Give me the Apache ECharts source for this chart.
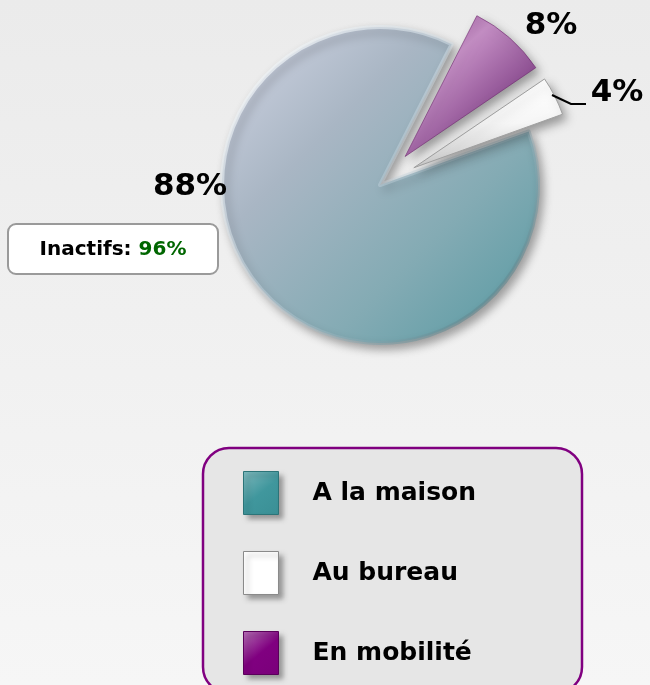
<!DOCTYPE html>
<html>
<head>
<meta charset="utf-8">
<script src="https://cdn.jsdelivr.net/npm/echarts@6/dist/echarts.min.js"></script>
<style>
  html, body { margin: 0; padding: 0; }
  #chart { width: 650px; height: 685px; }
</style>
</head>
<body>
<div id="chart"></div>
<script>
const categories = ['A la maison', 'Au bureau', 'En mobilité']
const shares = [88, 4, 8]
const exploded = [false, true, true]
const inactifs = 96

// where each percent label sits (px)
const labelAnchors = [[190, 187], [617, 93], [551, 26]]
const leaderLine = [[552, 95], [571, 104], [586, 104]]

const grad = (x2, y2, stops) => new echarts.graphic.LinearGradient(0, 0, x2, y2,
  stops.map((c, i) => ({ offset: i / (stops.length - 1), color: c })))

const sliceStyles = [
  {
    color: grad(1, 1, ['#d3d6e5', '#a9b6c4', '#84abb4', '#5499a1']),
    borderColor: grad(1, 1, ['rgba(255,255,255,0.85)', 'rgba(200,215,225,0.4)', 'rgba(55,105,112,0.75)']),
    borderWidth: 4
  },
  { color: grad(0, 1, ['#ffffff', '#f6f6f6', '#cccccc']), borderColor: '#a0a0a0', borderWidth: 1 },
  {
    color: grad(1, 1, ['#7a357a', '#c48ec4', '#8d4f92', '#6a2a6a']),
    borderColor: 'rgba(110,40,110,0.6)',
    borderWidth: 1
  }
]
const legendStyles = [
  { color: grad(1, 1, ['#7fb9bd', '#40979d', '#3a8f95']), borderColor: '#2c7478', borderWidth: 1 },
  { color: '#ffffff', borderColor: '#8a8a8a', borderWidth: 1 },
  { color: grad(1, 1, ['#b46fb4', '#800080', '#7a007a']), borderColor: '#5a005a', borderWidth: 1 }
]

const pctLabels = shares.map((v, i) => ({
  type: 'text',
  z: 10,
  x: labelAnchors[i][0],
  y: labelAnchors[i][1],
  style: {
    text: v + '%',
    align: 'center',
    verticalAlign: 'middle',
    fontFamily: 'DejaVu Sans',
    fontWeight: 'bold',
    fontSize: 31,
    fill: '#000'
  }
}))

const chart = echarts.init(document.getElementById('chart'))

const option = {
  animation: false,
  backgroundColor: new echarts.graphic.LinearGradient(0, 0, 0, 1, [
    { offset: 0, color: '#ebebeb' },
    { offset: 1, color: '#f6f6f6' }
  ]),
  graphic: [
    {
      type: 'rect',
      z: 0,
      shape: { x: 8, y: 224, width: 210, height: 50, r: 8 },
      style: { fill: '#ffffff', stroke: '#9a9a9a', lineWidth: 2 }
    },
    {
      type: 'text',
      z: 1,
      x: 113,
      y: 250,
      style: {
        text: '{a|Inactifs: }{b|' + inactifs + '%}',
        align: 'center',
        verticalAlign: 'middle',
        rich: {
          a: { fontFamily: 'DejaVu Sans', fontWeight: 'bold', fontSize: 20, fill: '#000' },
          b: { fontFamily: 'DejaVu Sans', fontWeight: 'bold', fontSize: 20, fill: '#006600' }
        }
      }
    },
    {
      type: 'rect',
      z: 0,
      shape: { x: 203, y: 448, width: 379, height: 245, r: 26 },
      style: { fill: '#e6e6e6', stroke: '#800080', lineWidth: 2.5 }
    },
    {
      // leader line of the 4% label
      type: 'polyline',
      z: 10,
      shape: { points: leaderLine },
      style: { stroke: '#000', lineWidth: 2, fill: null }
    },
    ...pctLabels
  ],
  legend: {
    orient: 'vertical',
    left: 243,
    top: 471,
    z: 5,
    padding: 0,
    icon: 'rect',
    itemWidth: 35,
    itemHeight: 43,
    itemGap: 36,
    selectedMode: false,
    itemStyle: {
      shadowBlur: 5,
      shadowOffsetX: 4,
      shadowOffsetY: 4,
      shadowColor: 'rgba(0,0,0,0.35)'
    },
    textStyle: {
      fontFamily: 'DejaVu Sans',
      fontWeight: 'bold',
      fontSize: 25,
      color: '#000',
      padding: [0, 0, 0, 29]
    },
    data: categories.map((name, i) => ({ name, itemStyle: legendStyles[i] }))
  },
  series: [{
    type: 'pie',
    center: [380, 185],
    radius: 158,
    startAngle: 63,
    clockwise: false,
    selectedMode: 'multiple',
    selectedOffset: 38,
    itemStyle: {
      shadowBlur: 10,
      shadowOffsetX: 4,
      shadowOffsetY: 5,
      shadowColor: 'rgba(0,0,0,0.35)'
    },
    emphasis: { disabled: true },
    label: { show: false },
    labelLine: { show: false },
    data: categories.map((name, i) => ({
      name,
      value: shares[i],
      selected: exploded[i],
      itemStyle: sliceStyles[i],
      select: { itemStyle: sliceStyles[i] }
    }))
  }]
}

chart.setOption(option)
</script>
</body>
</html>
